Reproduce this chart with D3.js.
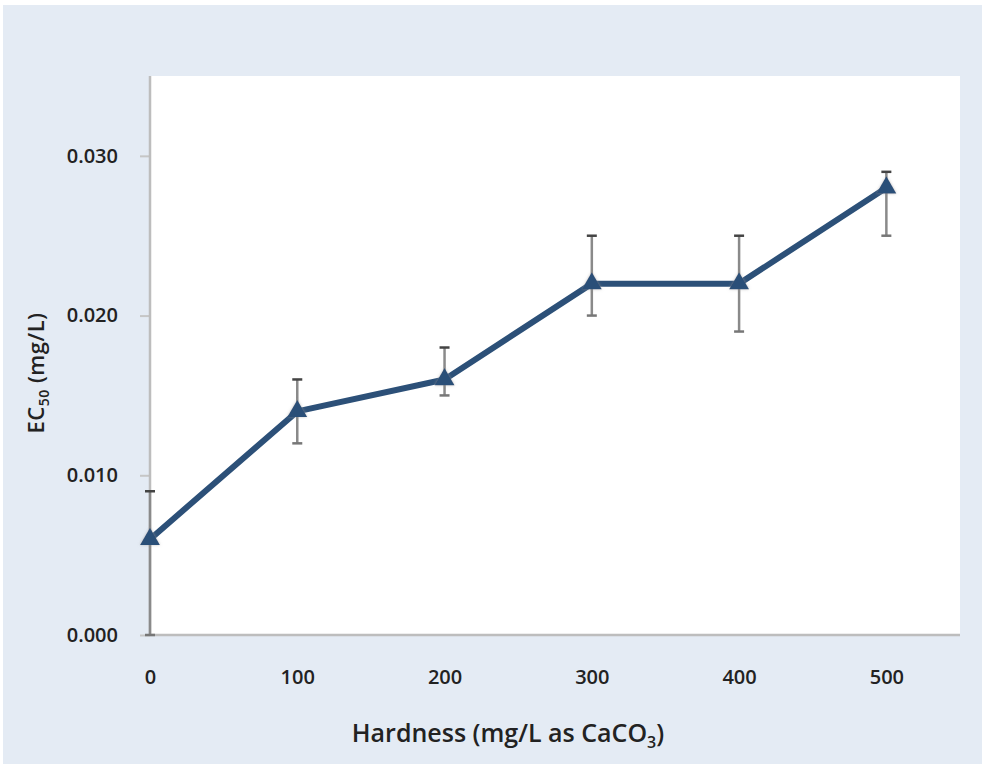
<!DOCTYPE html>
<html>
<head>
<meta charset="utf-8">
<script src="https://cdn.jsdelivr.net/npm/d3@7"></script>
<style>
  body { margin: 0; background: #fff; }
  svg { display: block; font-family: "Open Sans", "Noto Sans", sans-serif; }
</style>
</head>
<body>
<div id="chart"></div>
<script>
// data
const hardness = [0, 100, 200, 300, 400, 500];
const ec50 = [0.006, 0.014, 0.016, 0.022, 0.022, 0.028];
const errLow = [0.000, 0.012, 0.015, 0.020, 0.019, 0.025];
const errHigh = [0.009, 0.016, 0.018, 0.025, 0.025, 0.029];
const xTicks = [0, 100, 200, 300, 400, 500];
const yTicks = [0, 0.01, 0.02, 0.03];

const W = 982, H = 764;
const plot = { left: 150, right: 960, top: 76, bottom: 635 };
const lineColor = "#2c5078";

const svg = d3.select("#chart").append("svg")
  .attr("width", W)
  .attr("height", H);

// light blue chart background
svg.append("rect")
  .attr("x", 3).attr("y", 5)
  .attr("width", W - 3).attr("height", H - 5)
  .attr("fill", "#e4ebf4");

svg.append("rect")
  .attr("x", plot.left).attr("y", plot.top)
  .attr("width", plot.right - plot.left).attr("height", plot.bottom - plot.top)
  .attr("fill", "#fff");

const defs = svg.append("defs");
const glow = defs.append("filter").attr("id", "halo")
  .attr("x", "-50%").attr("y", "-50%").attr("width", "200%").attr("height", "200%");
glow.append("feGaussianBlur").attr("in", "SourceAlpha").attr("stdDeviation", 1.8).attr("result", "b");
glow.append("feFlood").attr("flood-color", "#999").attr("flood-opacity", 0.6);
glow.append("feComposite").attr("in2", "b").attr("operator", "in").attr("result", "s");
const fm = glow.append("feMerge");
fm.append("feMergeNode").attr("in", "s");
fm.append("feMergeNode").attr("in", "SourceGraphic");

const x = d3.scaleLinear().domain([0, 550]).range([plot.left, plot.right]);
const y = d3.scaleLinear().domain([0, 0.035]).range([plot.bottom, plot.top]);

// y axis
const yAxis = svg.append("g")
  .attr("transform", "translate(" + plot.left + ",0)")
  .call(d3.axisLeft(y).tickValues(yTicks).tickFormat(d3.format(".3f"))
    .tickSize(10).tickSizeOuter(0).tickPadding(22));
yAxis.select(".domain").remove();
yAxis.selectAll(".tick line").attr("stroke", "#c6c6c6").attr("stroke-width", 2);
yAxis.selectAll(".tick text")
  .attr("font-size", 20).attr("font-weight", 600).attr("fill", "#222")
  .attr("font-family", "Open Sans");

// x axis
const xAxis = svg.append("g")
  .attr("transform", "translate(0," + plot.bottom + ")")
  .call(d3.axisBottom(x).tickValues(xTicks).tickSize(0).tickPadding(35));
xAxis.select(".domain").remove();
xAxis.selectAll(".tick text")
  .attr("font-size", 20).attr("font-weight", 600).attr("fill", "#222")
  .attr("font-family", "Open Sans");

// axis lines
svg.append("line")
  .attr("x1", plot.left).attr("x2", plot.right)
  .attr("y1", plot.bottom).attr("y2", plot.bottom)
  .attr("stroke", "#bdbdbd").attr("stroke-width", 2.5);
svg.append("line")
  .attr("x1", plot.left).attr("x2", plot.left)
  .attr("y1", plot.top).attr("y2", plot.bottom)
  .attr("stroke", "#bdbdbd").attr("stroke-width", 2.5);

// error bars
const eb = svg.append("g").selectAll("g")
  .data(hardness)
  .enter().append("g");
eb.append("line")
  .attr("x1", d => x(d)).attr("x2", d => x(d))
  .attr("y1", (d, i) => y(errHigh[i])).attr("y2", (d, i) => y(errLow[i]))
  .attr("stroke", "#8a8a8a").attr("stroke-width", 2.5);
eb.append("line")
  .attr("x1", d => x(d) - 5).attr("x2", d => x(d) + 5)
  .attr("y1", (d, i) => y(errHigh[i])).attr("y2", (d, i) => y(errHigh[i]))
  .attr("stroke", "#444").attr("stroke-width", 2.5);
eb.append("line")
  .attr("x1", d => x(d) - 5).attr("x2", d => x(d) + 5)
  .attr("y1", (d, i) => y(errLow[i])).attr("y2", (d, i) => y(errLow[i]))
  .attr("stroke", "#777").attr("stroke-width", 2.5);

// series line
const line = d3.line()
  .x((d, i) => x(hardness[i]))
  .y(d => y(d));
svg.append("path")
  .datum(ec50)
  .attr("d", line)
  .attr("fill", "none")
  .attr("stroke", lineColor)
  .attr("stroke-width", 6)
  .attr("stroke-linejoin", "round");

// triangle markers
svg.append("g").selectAll("path")
  .data(ec50)
  .enter().append("path")
  .attr("transform", (d, i) => "translate(" + x(hardness[i]) + "," + y(d) + ")")
  .attr("d", d3.symbol().type(d3.symbolTriangle).size(170))
  .attr("fill", lineColor)
  .attr("filter", "url(#halo)");

// axis titles
svg.append("text")
  .attr("x", 508)
  .attr("y", 742)
  .attr("text-anchor", "middle")
  .attr("font-size", 25)
  .attr("font-weight", 600)
  .attr("fill", "#222")
  .html('Hardness (mg/L as CaCO<tspan font-size="16" dy="6">3</tspan><tspan dy="-6">)</tspan>');

svg.append("text")
  .attr("transform", "translate(44,373) rotate(-90)")
  .attr("text-anchor", "middle")
  .attr("font-size", 22)
  .attr("font-weight", 600)
  .attr("letter-spacing", 0.5)
  .attr("fill", "#222")
  .html('EC<tspan font-size="14" dy="5">50</tspan><tspan dy="-5"> (mg/L)</tspan>');
</script>
</body>
</html>
